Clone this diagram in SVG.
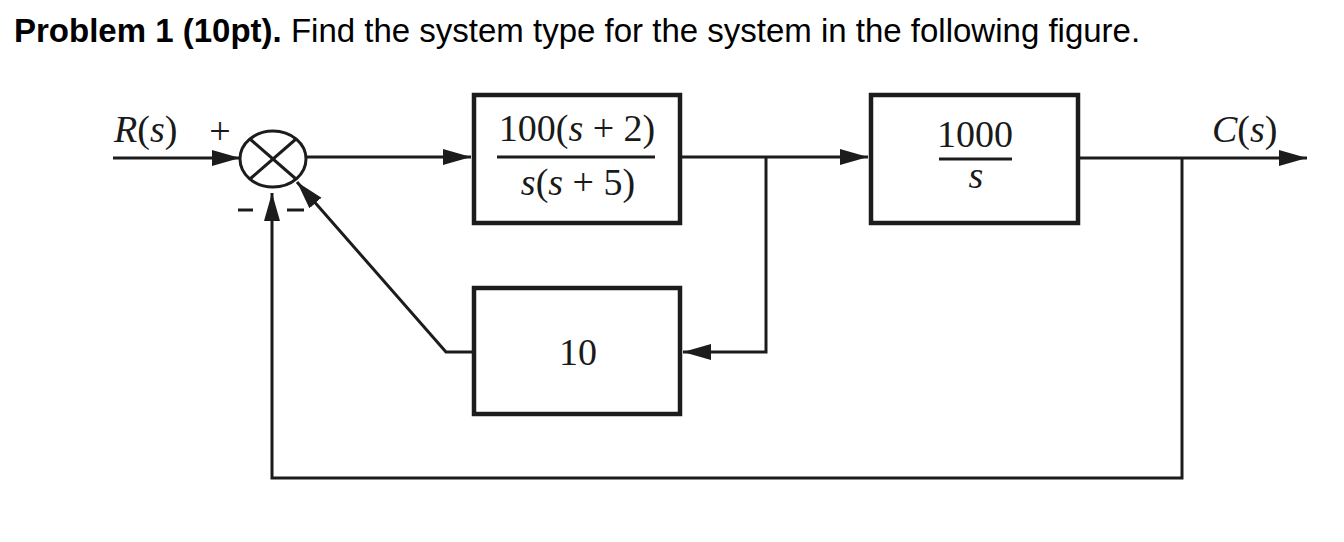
<svg xmlns="http://www.w3.org/2000/svg" width="1344" height="542" viewBox="0 0 1344 542">
<defs>
<style>
.ln{fill:none;stroke:#1c1c1c;stroke-width:3}
.box{fill:#fff;stroke:#1c1c1c;stroke-width:4.5}
.m{font-family:"Liberation Serif","Times New Roman",serif;fill:#1a1a1a}
.i{font-style:italic}
.t{font-family:"Liberation Sans",Arial,Helvetica,sans-serif;font-size:33px;fill:#000}
</style>
<marker id="ah" markerUnits="userSpaceOnUse" markerWidth="30" markerHeight="18" refX="28" refY="8" orient="auto">
<path d="M0,0 L28,8 L0,16 z" fill="#1c1c1c"/>
</marker>
</defs>
<rect width="1344" height="542" fill="#fff"/>
<text class="t" x="14" y="42"><tspan font-weight="bold">Problem 1 (10pt).</tspan> Find the system type for the system in the following figure.</text>

<g id="connectors">
<line class="ln" x1="113" y1="158" x2="240" y2="158" marker-end="url(#ah)"/>
<line class="ln" x1="307" y1="157" x2="471" y2="157" marker-end="url(#ah)"/>
<line class="ln" x1="682" y1="157" x2="868" y2="157" marker-end="url(#ah)"/>
<line class="ln" x1="1080" y1="158" x2="1307" y2="158" marker-end="url(#ah)"/>
<polyline class="ln" points="766,157 766,352 683,352" marker-end="url(#ah)"/>
<polyline class="ln" points="472,352 446,352 297,182" marker-end="url(#ah)"/>
<polyline class="ln" points="1182,158 1182,478 272,478 272,193" marker-end="url(#ah)"/>
</g>

<g id="sum">
<ellipse cx="273" cy="159" rx="33" ry="28" fill="#fff" stroke="#1c1c1c" stroke-width="3"/>
<line class="ln" x1="250" y1="139" x2="296" y2="179"/>
<line class="ln" x1="296" y1="139" x2="250" y2="179"/>
<text class="m" x="220" y="144" font-size="38" text-anchor="middle">+</text>
<line class="ln" x1="238" y1="210" x2="253" y2="210" stroke-width="2.5"/>
<line class="ln" x1="287" y1="210" x2="304" y2="210" stroke-width="2.5"/>
</g>

<g id="labels">
<text class="m" x="114" y="142" font-size="38"><tspan class="i">R</tspan>(<tspan class="i">s</tspan>)</text>
<text class="m" x="1212" y="142" font-size="38"><tspan class="i">C</tspan>(<tspan class="i">s</tspan>)</text>
</g>

<g id="g1">
<rect class="box" x="474" y="95" width="206" height="128"/>
<text class="m" x="577" y="141" font-size="38" text-anchor="middle">100(<tspan class="i">s</tspan> + 2)</text>
<line x1="497" y1="157" x2="655" y2="157" stroke="#1c1c1c" stroke-width="3"/>
<text class="m" x="578" y="195" font-size="38" text-anchor="middle"><tspan class="i">s</tspan>(<tspan class="i">s</tspan> + 5)</text>
</g>

<g id="g2">
<rect class="box" x="871" y="95" width="207" height="128"/>
<text class="m" x="975" y="147" font-size="38" text-anchor="middle">1000</text>
<line x1="939" y1="159" x2="1012" y2="159" stroke="#1c1c1c" stroke-width="3"/>
<text class="m i" x="976" y="188" font-size="38" text-anchor="middle">s</text>
</g>

<g id="h">
<rect class="box" x="474" y="288" width="206" height="126"/>
<text class="m" x="578" y="365" font-size="38" text-anchor="middle">10</text>
</g>
</svg>
